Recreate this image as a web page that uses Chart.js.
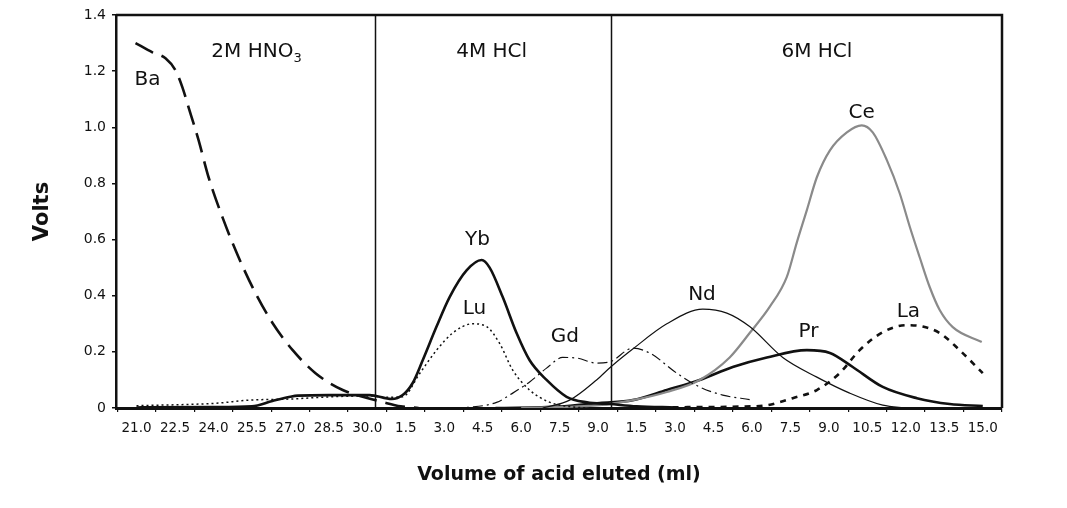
<!DOCTYPE html>
<html>
<head>
<meta charset="utf-8">
<script src="https://cdn.jsdelivr.net/npm/chart.js@4.4.1/dist/chart.umd.min.js"></script>
<style>
  html, body { margin: 0; padding: 0; background: #ffffff; }
  #wrap { width: 1067px; height: 508px; position: relative; }
</style>
</head>
<body>
<div id="wrap"><canvas id="c" width="1067" height="508"></canvas></div>
<script>
// ---- Data (x in cumulative ml: 2M HNO3 21–30, 4M HCl = 30 + v, 6M HCl = 39 + v) ----
const tickLabels = ['21.0','22.5','24.0','25.5','27.0','28.5','30.0',
                    '1.5','3.0','4.5','6.0','7.5','9.0',
                    '1.5','3.0','4.5','6.0','7.5','9.0','10.5','12.0','13.5','15.0'];
const yTickLabels = ['0','0.2','0.4','0.6','0.8','1.0','1.2','1.4'];
const phaseBounds = [30.3, 39.5];

const baX = [20.96, 21.62, 22.13, 22.52, 22.79, 23.03, 23.42, 23.81, 24.35, 24.98, 25.64, 26.31, 27.09, 27.98, 29.04, 29.82, 30.6, 31.3, 32.0];
const baY = [1.30, 1.267, 1.246, 1.203, 1.142, 1.071, 0.954, 0.822, 0.68, 0.537, 0.409, 0.302, 0.206, 0.124, 0.064, 0.04, 0.021, 0.006, 0.0];

const ybX = [21.0, 24.0, 25.5, 26.3, 27.0, 27.3, 28.5, 30.09, 30.95, 31.38, 31.77, 32.16, 32.7, 33.21, 33.87, 34.46, 34.77, 35.28, 35.82, 36.33, 36.99, 37.77, 38.56, 39.45, 40.5, 42.0];
const ybY = [0.002, 0.003, 0.006, 0.025, 0.04, 0.044, 0.046, 0.046, 0.032, 0.046, 0.089, 0.17, 0.29, 0.395, 0.49, 0.527, 0.50, 0.395, 0.267, 0.17, 0.10, 0.04, 0.02, 0.014, 0.006, 0.002];

const luX = [21.0, 24.1, 25.4, 27.0, 28.6, 30.09, 30.7, 31.38, 32.05, 32.7, 33.33, 34.1, 34.65, 35.16, 35.67, 36.33, 37.1, 37.88, 38.5];
const luY = [0.008, 0.017, 0.028, 0.032, 0.04, 0.043, 0.038, 0.04, 0.124, 0.206, 0.267, 0.30, 0.29, 0.23, 0.135, 0.064, 0.021, 0.005, 0.0];

const gdX = [31.0, 33.0, 34.0, 35.04, 35.67, 36.33, 36.99, 37.62, 38.16, 38.94, 39.45, 40.35, 41.01, 42.07, 42.96, 43.86, 44.91];
const gdY = [0.0, 0.0, 0.003, 0.02, 0.053, 0.093, 0.142, 0.18, 0.178, 0.16, 0.164, 0.213, 0.196, 0.124, 0.075, 0.046, 0.03];

const ndX = [36.84, 37.89, 38.94, 39.49, 40.35, 41.68, 43.08, 44.02, 44.91, 46.2, 47.53, 48.81, 50.1, 51.04];
const ndY = [0.0, 0.028, 0.10, 0.146, 0.21, 0.30, 0.352, 0.338, 0.29, 0.18, 0.11, 0.053, 0.01, 0.0];

const ceX = [36.0, 39.06, 40.35, 41.68, 42.96, 44.13, 44.91, 45.69, 46.36, 46.75, 47.14, 47.53, 48.04, 48.7, 49.28, 49.71, 50.26, 50.76, 51.16, 51.54, 51.93, 52.32, 52.83, 53.96];
const ceY = [0.0, 0.01, 0.028, 0.057, 0.10, 0.18, 0.267, 0.36, 0.467, 0.59, 0.705, 0.822, 0.918, 0.982, 1.007, 0.982, 0.883, 0.765, 0.644, 0.537, 0.431, 0.349, 0.288, 0.235];

const prX = [35.0, 37.5, 39.06, 40.35, 41.68, 42.96, 44.25, 45.58, 47.14, 48.04, 48.93, 50.1, 51.43, 52.71, 54.0];
const prY = [0.0, 0.005, 0.018, 0.028, 0.064, 0.10, 0.146, 0.18, 0.206, 0.196, 0.146, 0.075, 0.035, 0.014, 0.007];

const laX = [40.5, 42.5, 44.52, 45.58, 46.59, 47.53, 48.42, 49.2, 50.1, 51.04, 51.66, 52.32, 53.1, 54.0];
const laY = [0.0, 0.003, 0.005, 0.01, 0.035, 0.064, 0.124, 0.206, 0.27, 0.295, 0.29, 0.267, 0.206, 0.124];

// text annotations (data coordinates)
const notes = [
  {text: 'Ba', x: 21.43, y: 1.17},
  {text: '2M HNO', sub: '3', x: 25.68, y: 1.27},
  {text: '4M HCl', x: 34.85, y: 1.27},
  {text: '6M HCl', x: 47.53, y: 1.27},
  {text: 'Yb', x: 34.3, y: 0.60},
  {text: 'Lu', x: 34.18, y: 0.352},
  {text: 'Gd', x: 37.7, y: 0.253},
  {text: 'Nd', x: 43.05, y: 0.405},
  {text: 'Pr', x: 47.2, y: 0.27},
  {text: 'La', x: 51.1, y: 0.342},
  {text: 'Ce', x: 49.28, y: 1.053}
];

const pts = (xs, ys) => xs.map((x, i) => ({x: x, y: ys[i]}));
const FONT = "'DejaVu Sans', sans-serif";

function ds(label, xs, ys, color, width, dash) {
  return {
    label: label, data: pts(xs, ys), borderColor: color, borderWidth: width,
    borderDash: dash, pointRadius: 0, fill: false,
    cubicInterpolationMode: 'monotone', borderCapStyle: 'butt'
  };
}

const decor = {
  id: 'decor',
  afterDatasetsDraw(chart) {
    const {ctx, chartArea: a, scales: {x, y}} = chart;
    ctx.save();
    ctx.strokeStyle = '#111';
    ctx.lineWidth = 2.5;
    ctx.beginPath();
    ctx.moveTo(a.left, a.top); ctx.lineTo(a.right, a.top); ctx.lineTo(a.right, a.bottom);
    ctx.stroke();
    ctx.lineWidth = 1.5;
    phaseBounds.forEach(v => {
      const px = Math.round(x.getPixelForValue(v)) + 0.5;
      ctx.beginPath(); ctx.moveTo(px, a.top); ctx.lineTo(px, a.bottom); ctx.stroke();
    });
    ctx.fillStyle = '#111';
    ctx.textBaseline = 'middle';
    notes.forEach(n => {
      const px = x.getPixelForValue(n.x), py = y.getPixelForValue(n.y);
      ctx.font = '20px ' + FONT;
      const w1 = ctx.measureText(n.text).width;
      let w2 = 0;
      if (n.sub) { ctx.font = '13px ' + FONT; w2 = ctx.measureText(n.sub).width; }
      const start = px - (w1 + w2) / 2;
      ctx.font = '20px ' + FONT;
      ctx.textAlign = 'left';
      ctx.fillText(n.text, start, py);
      if (n.sub) { ctx.font = '13px ' + FONT; ctx.fillText(n.sub, start + w1, py + 7); }
    });
    ctx.restore();
  }
};

new Chart(document.getElementById('c'), {
  type: 'line',
  data: {
    datasets: [
      ds('Ba', baX, baY, '#111', 2.6, [20, 9]),
      ds('Lu', luX, luY, '#111', 1.5, [2, 3]),
      ds('Yb', ybX, ybY, '#111', 2.6, []),
      ds('Gd', gdX, gdY, '#111', 1.2, [10, 4, 2, 4]),
      ds('Nd', ndX, ndY, '#111', 1.2, []),
      ds('Ce', ceX, ceY, '#8a8a8a', 2.2, []),
      ds('Pr', prX, prY, '#111', 2.6, []),
      ds('La', laX, laY, '#111', 2.6, [6, 6])
    ]
  },
  options: {
    responsive: false,
    animation: false,
    events: [],
    layout: {padding: {left: 0, right: 65, top: 15, bottom: 0}},
    plugins: {legend: {display: false}, tooltip: {enabled: false}},
    scales: {
      x: {
        type: 'linear', min: 20.2, max: 54.75,
        afterFit: s => { s.height = 100; },
        afterBuildTicks: s => { s.ticks = tickLabels.map((_, i) => ({value: 21 + 1.5 * i})); },
        ticks: {
          autoSkip: false, maxRotation: 0, padding: 8, color: '#111',
          font: {family: FONT, size: 13.5},
          callback: (v, i) => tickLabels[i]
        },
        grid: {drawOnChartArea: false, offset: true, drawTicks: true, tickLength: 4, color: '#111', lineWidth: 1.2},
        border: {display: true, color: '#111', width: 3},
        title: {display: true, text: 'Volume of acid eluted (ml)', color: '#111',
                font: {family: FONT, size: 19, weight: 'bold'}, padding: {top: 0, bottom: 22}}
      },
      y: {
        type: 'linear', min: 0, max: 1.4,
        afterFit: s => { s.width = 116; },
        afterBuildTicks: s => { s.ticks = yTickLabels.map((_, i) => ({value: 0.2 * i})); },
        ticks: {
          padding: 6, color: '#111', font: {family: FONT, size: 14},
          callback: (v, i) => yTickLabels[i]
        },
        grid: {drawOnChartArea: false, drawTicks: true, tickLength: 4, color: '#111', lineWidth: 1.5},
        border: {display: true, color: '#111', width: 2.5},
        title: {display: true, text: 'Volts', color: '#111',
                font: {family: FONT, size: 21, weight: 'bold'}, padding: {top: 30, bottom: 0}}
      }
    }
  },
  plugins: [decor]
});
</script>
</body>
</html>
